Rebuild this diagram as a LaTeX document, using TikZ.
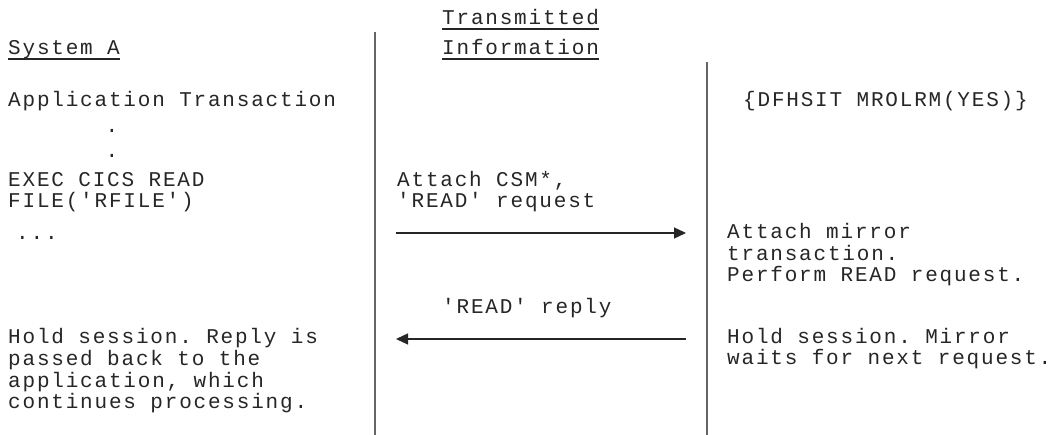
\documentclass[tikz,border=0pt]{standalone}
\usepackage{fontspec}
\setmonofont[LetterSpace=8.6]{Liberation Mono}
\usetikzlibrary{arrows.meta}

\begin{document}
\begin{tikzpicture}[x=1pt,y=-1pt,>={Triangle[length=12pt,width=11pt]},
  txt/.style={anchor=base west,inner sep=0pt,align=left,text=black!85,
    font=\ttfamily\fontsize{21}{21.7}\selectfont},
  rule/.style={draw=black!60,line width=1.1pt},
  msg/.style={->,draw=black!85,line width=1.3pt}]
\useasboundingbox (0,0) rectangle (1055,435);
% column rules
\draw[rule] (375,32) -- (375,435);
\draw[rule] (707,62) -- (707,435);
% headings
\node[txt] (sysA) at (8,55) {System A};
\node[txt] (trans) at (442,25) {Transmitted};
\node[txt] (info) at (442,55) {Information};
\foreach \n in {sysA,trans,info}
  \draw[black!85,line width=1.2pt] ([yshift=-4pt]\n.base west) -- ([yshift=-4pt]\n.base east);
% system A (multi-line nodes sit on their last line)
\node[txt] (app) at (8,107) {Application Transaction};
\node[txt,anchor=base] (dotA) at (112,133) {.};
\node[txt,anchor=base] (dotB) at (112,158) {.};
\node[txt] (exec) at (8,208) {EXEC CICS READ\\FILE('RFILE')};
\node[txt] (more) at (16,240) {...};
\node[txt] (holdA) at (8,409) {Hold session. Reply is\\passed back to the\\application, which\\continues processing.};
% transmitted information
\node[txt] (csm) at (397,208) {Attach CSM*,\\'READ' request};
\coordinate (reqS) at (396,233);
\coordinate (reqE) at (686,233);
\draw[msg] (reqS) -- (reqE);
\node[txt] (reply) at (442,314) {'READ' reply};
\coordinate (repS) at (686,339);
\coordinate (repE) at (396,339);
\draw[msg] (repS) -- (repE);
% system B
\node[txt] (sit) at (743,107) {\{DFHSIT MROLRM(YES)\}};
\node[txt] (mirror) at (727,282) {Attach mirror\\transaction.\\Perform READ request.};
\node[txt] (holdB) at (727,365) {Hold session. Mirror\\waits for next request.};
\end{tikzpicture}
\end{document}
